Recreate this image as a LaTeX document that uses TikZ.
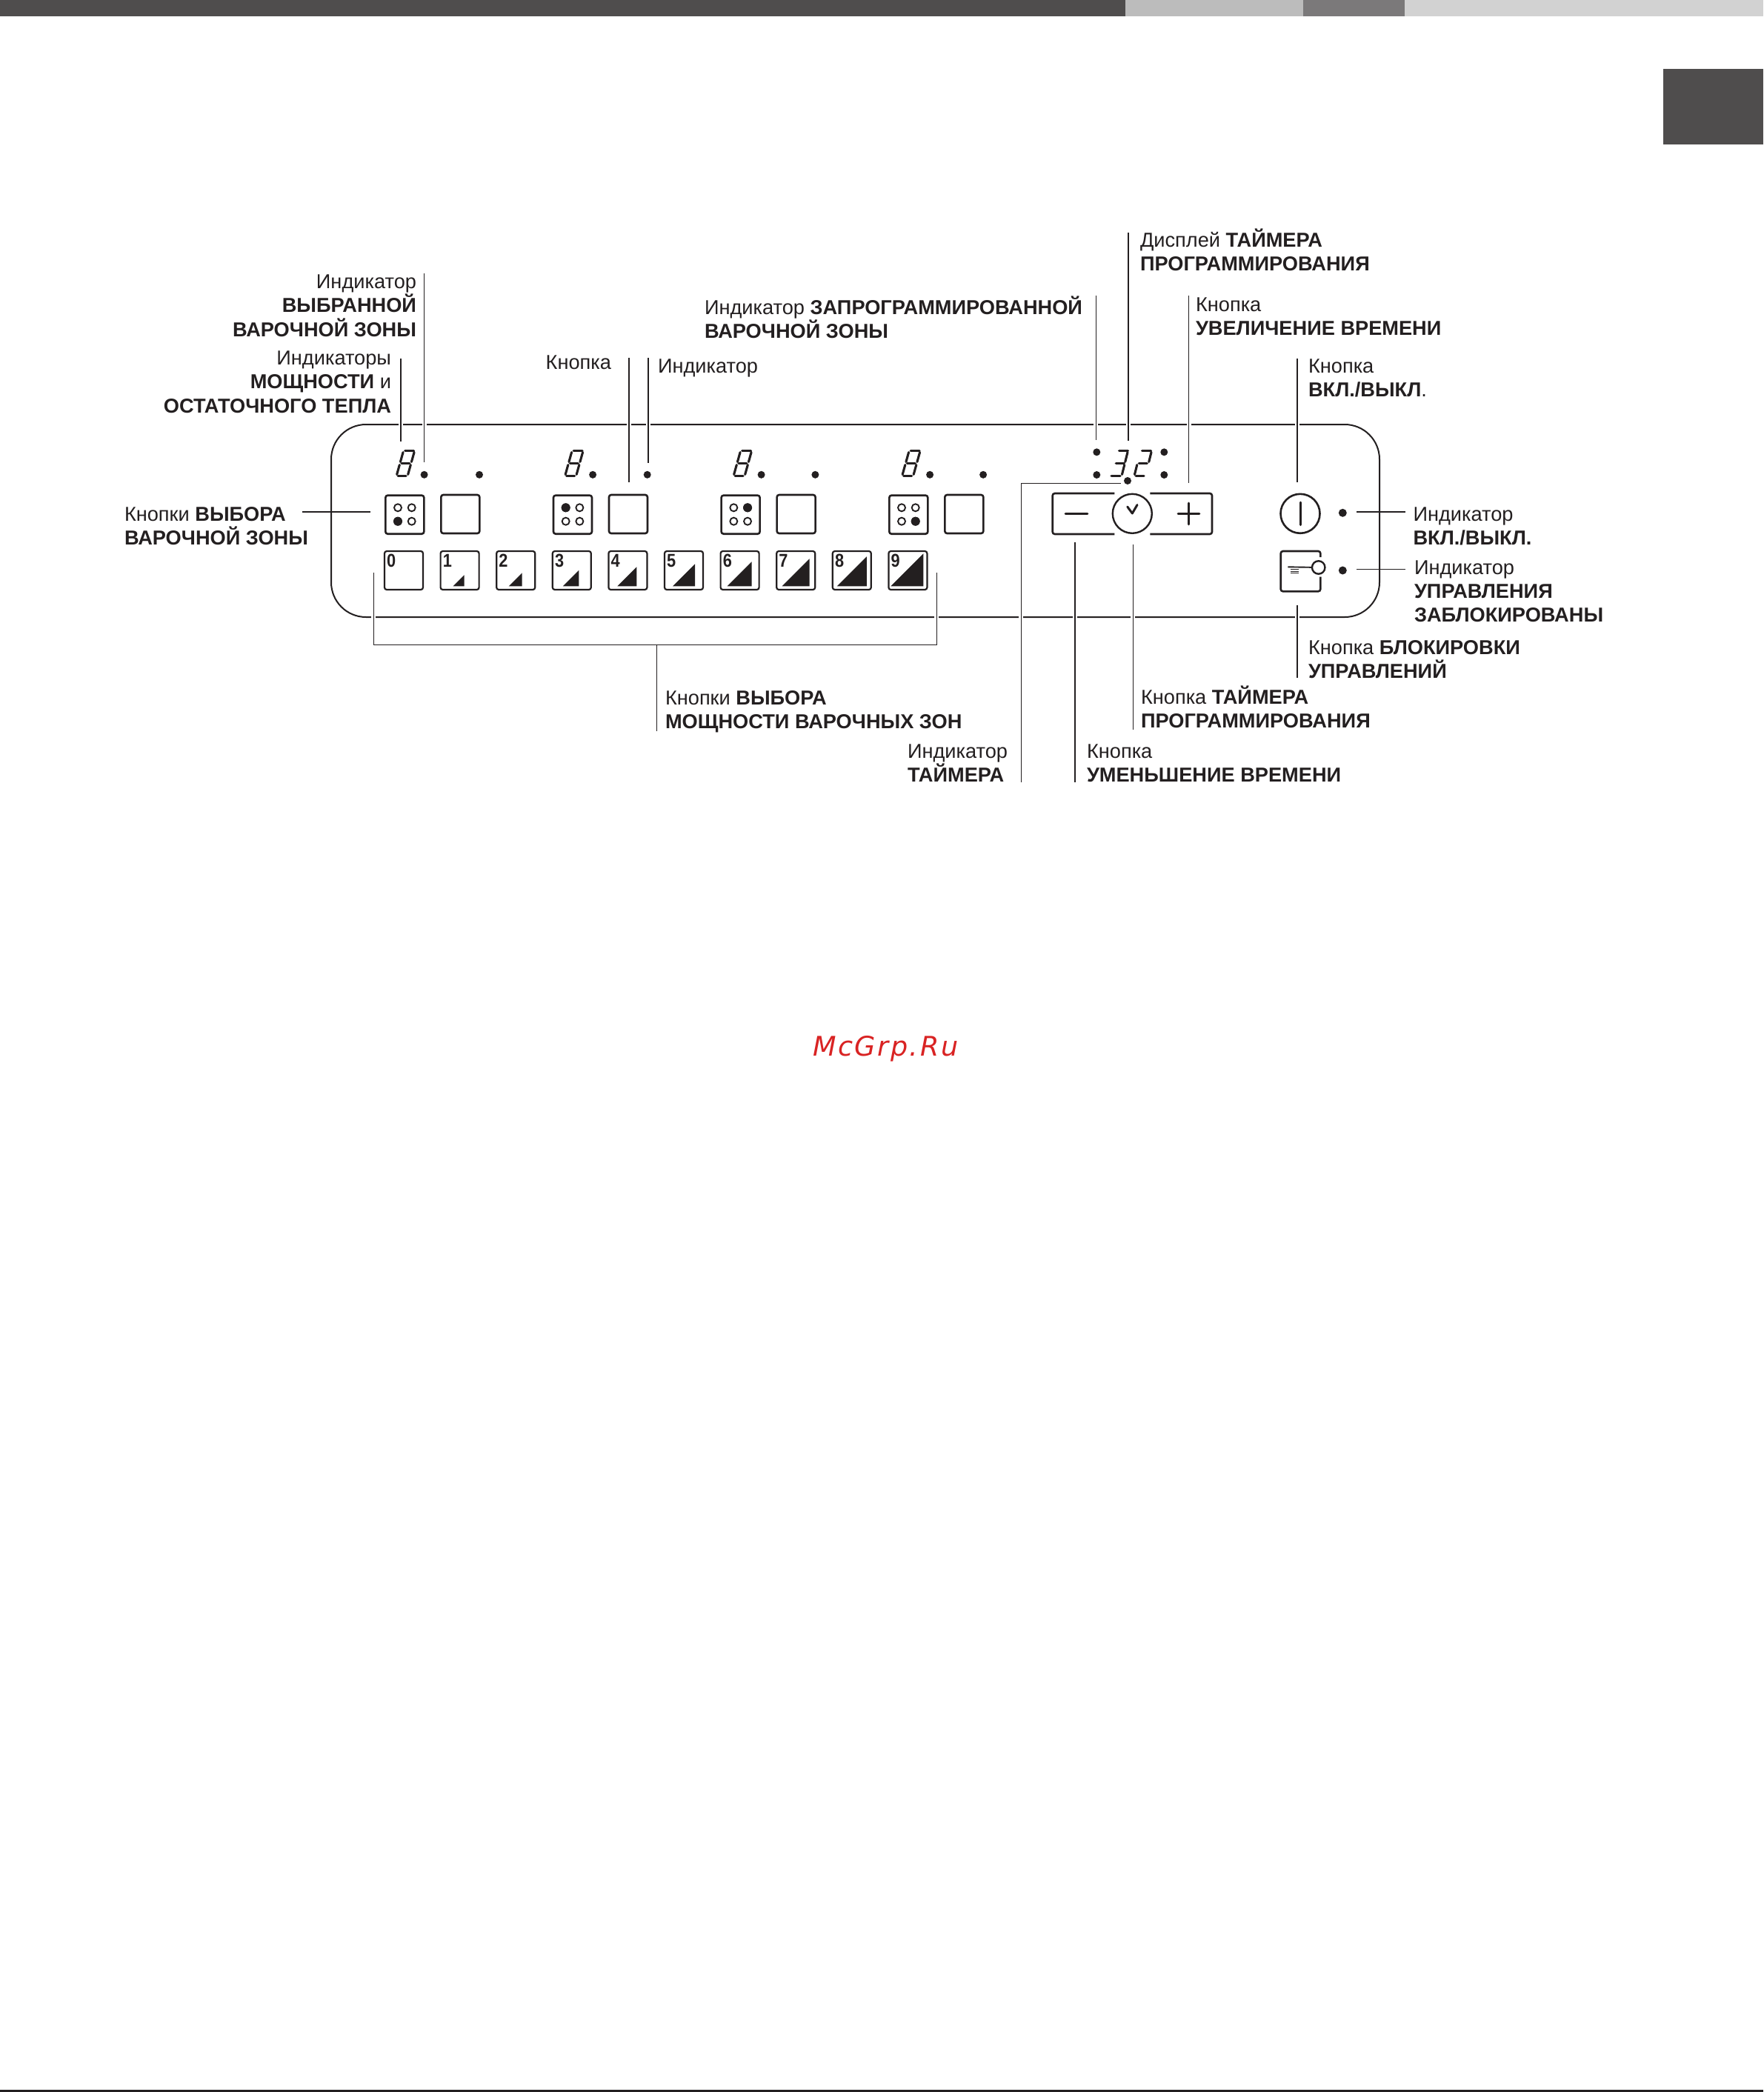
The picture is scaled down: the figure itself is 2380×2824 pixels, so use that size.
\documentclass[tikz,border=0pt]{standalone}
\usepackage{fontspec}
\setmainfont{Liberation Sans}
\newfontfamily\wmfont[LetterSpace=7]{DejaVu Sans}
\newfontfamily\numfont[FakeStretch=0.87]{Liberation Sans}
\definecolor{ink}{HTML}{231F20}
\definecolor{tabdark}{HTML}{4F4D4D}
\definecolor{barlight}{HTML}{BCBCBC}
\definecolor{barmid}{HTML}{7B797A}
\definecolor{barpale}{HTML}{D2D2D2}
\definecolor{wmred}{HTML}{D92323}
\newcommand{\lblfont}{\fontsize{27.2}{32.3}\selectfont\lineskiplimit=-100pt\relax}
\tikzset{
  lbl/.style={font=\lblfont,text=ink,inner sep=0pt,outer sep=0pt},
  lblL/.style={lbl,anchor=north west,align=left},
  lblR/.style={lbl,anchor=north east,align=right},
  leader/.style={draw=ink,line width=1.6pt,preaction={draw=white,line width=6pt}},
  plainleader/.style={draw=ink,line width=1.6pt},
  btn/.style={draw=ink,line width=2.6pt,rounded corners=3pt,minimum width=52pt,minimum height=52pt,inner sep=0pt,outer sep=0pt},
  pbtn/.style={draw=ink,line width=2.2pt,rounded corners=3pt,minimum width=52pt,minimum height=52pt,inner sep=0pt,outer sep=0pt},
  seg/.style={draw=ink,line width=3.1pt,line cap=round},
  pnum/.style={font=\numfont\fontsize{25}{25}\selectfont\bfseries,text=ink,inner sep=0pt,anchor=west},
  thick line/.style={draw=ink,line width=2.6pt},
}
% seven-segment pieces (local coordinates, origin at bottom left)
\newcommand{\sT}{\draw[seg] (2,-34)--(14,-34);}
\newcommand{\sM}{\draw[seg] (2,-17)--(13,-17);}
\newcommand{\sB}{\draw[seg] (2,0)--(13,0);}
\newcommand{\sUL}{\draw[seg] (0,-32)--(0,-19);}
\newcommand{\sUR}{\draw[seg] (15,-32)--(15,-19);}
\newcommand{\sLL}{\draw[seg] (0,-15)--(0,-2);}
\newcommand{\sLR}{\draw[seg] (15,-15)--(15,-2);}
\begin{document}
\begin{tikzpicture}[x=1pt,y=-1pt]
\useasboundingbox (0,0) rectangle (2380,2824);
\fill[white] (0,0) rectangle (2380,2824);
% page furniture
\fill[tabdark] (0,0) rectangle (1519,22);
\fill[barlight] (1519,0) rectangle (1759,22);
\fill[barmid] (1759,0) rectangle (1896,22);
\fill[barpale] (1896,0) rectangle (2380,22);
\fill[tabdark] (2245,93) rectangle (2380,195);
\fill[ink] (0,2821) rectangle (2380,2824);
\node[font=\wmfont\itshape\fontsize{36.5}{40}\selectfont,text=wmred,anchor=base west,inner sep=0pt] (wm) at (1097,1425) {McGrp.Ru};
% panel
\draw[draw=ink,line width=2pt,rounded corners=47pt] (447,573) rectangle (1862,833);
% leader end points
\foreach \n/\x/\ya/\yb in {a/572.6/369/624, b/541/484/596, c/849/483/651, d/875/483/625,
    e/1479.4/399/594, f/1522.7/314/595, g/1604.6/399/652, h/1751/484/651,
    i/1451/732/1056, j/1529.3/735/985, k/1750.7/817/915}{
  \coordinate (\n top) at (\x,\ya);
  \coordinate (\n bot) at (\x,\yb);
  \draw[leader] (\n top) -- (\n bot);
}
\coordinate (tiA) at (1513.3,652.5);
\coordinate (tiB) at (1378.4,652.5);
\coordinate (tiC) at (1378.4,1056);
\draw[leader] (tiC) -- (tiB);
\draw[plainleader] (tiB) -- (tiA);
\coordinate (brA) at (504.3,773);
\coordinate (brB) at (504.3,870.5);
\coordinate (brC) at (1264.3,870.5);
\coordinate (brD) at (1264.3,773);
\coordinate (brE) at (886.4,870.5);
\coordinate (brF) at (886.4,987);
\draw[leader] (brA) -- (brB) -- (brC) -- (brD);
\draw[plainleader] (brE) -- (brF);
\coordinate (leftA) at (408,690.7);
\coordinate (leftB) at (500,690.7);
\draw[plainleader,line width=2.2pt] (leftA) -- (leftB);
\coordinate (rA) at (1831,690.7);
\coordinate (rB) at (1897,690.7);
\draw[plainleader,line width=2.2pt] (rA) -- (rB);
\coordinate (rC) at (1831,768.3);
\coordinate (rD) at (1897,768.3);
\draw[plainleader] (rC) -- (rD);
% zones
\foreach \g/\ax/\ay in {0/0/1,1/0/0,2/1/0,3/1/1}{
  \pgfmathsetmacro{\xz}{519+226.67*\g}
  \pgfmathsetmacro{\dotA}{572.6+227.5*\g}
  \pgfmathsetmacro{\dotB}{647+226.7*\g}
  \node[btn] (zone\g) at (\xz+27.3,694.7) {};
  \node[btn] (aux\g) at (\xz+75+27.3,694) {};
  \foreach \cx in {0,1}\foreach \cy in {0,1}{
    \pgfmathsetmacro{\px}{\xz+18+18.7*\cx}
    \pgfmathsetmacro{\py}{685.3+18.4*\cy}
    \draw[ink,line width=1.9pt,fill=white] (\px,\py) circle[radius=5pt];
  }
  \fill[ink] (\xz+18+18.7*\ax,685.3+18.4*\ay) circle[radius=6pt];
  \fill[ink] (\dotA,640.8) circle[radius=5pt];
  \fill[ink] (\dotB,640.8) circle[radius=5pt];
  \begin{scope}[shift={(\dotA-37.5,642.5)},xslant=.28]
    \sT\sM\sB\sUL\sUR\sLL\sLR
  \end{scope}
}
% power buttons
\foreach \i/\r/\s in {0/0/0,1/33/15,2/35.5/18,3/36.6/21.5,4/39/26,5/42/30,6/43/33,7/45.4/37,8/47/40,9/48/44}{
  \pgfmathsetmacro{\bx}{518+75.6*\i}
  \node[pbtn] (pow\i) at (\bx+27,770) {};
  \node[pnum] (num\i) at (\bx+4,757) {\i};
  \ifnum\i>0
    \fill[ink] (\bx+\r-\s,791.3) -- (\bx+\r,791.3) -- (\bx+\r,791.3-\s) -- cycle;
  \fi
}
% timer
\draw[thick line,rounded corners=3pt] (1504.3,666) -- (1420.7,666) -- (1420.7,721) -- (1504.3,721);
\draw[thick line,rounded corners=3pt] (1552.3,666) -- (1636,666) -- (1636,721) -- (1552.3,721);
\node[circle,draw=ink,line width=2.4pt,minimum size=53pt,inner sep=0pt] (timer) at (1528.3,693.3) {};
\draw[draw=ink,line width=3pt,line join=round,line cap=round] (1521.7,684) -- (1528.3,693) -- (1535,681.5);
\draw[thick line,line cap=round] (1438,693.3) -- (1468,693.3);
\draw[thick line,line cap=round] (1590,693.3) -- (1619,693.3);
\draw[thick line,line cap=round] (1604.4,679) -- (1604.4,708);
\foreach \px/\py in {1480.3/610.3,1480.3/641,1571.3/610.3,1571.3/641,1522/649}{
  \fill[ink] (\px,\py) circle[radius=5pt];
}
\begin{scope}[shift={(1499,642.5)},xslant=.25]
  \draw[seg] (3,-34)--(15,-34);
  \draw[seg] (3,-17)--(14,-17);
  \draw[seg] (1,0)--(13,0);
  \sUR\sLR
\end{scope}
\begin{scope}[shift={(1531,642.5)},xslant=.25]
  \sT\sM\sB\sUR\sLL
\end{scope}
% on/off
\node[circle,draw=ink,line width=2.6pt,minimum size=53pt,inner sep=0pt] (onoff) at (1755,693.3) {};
\draw[thick line,line width=3pt,line cap=round] (1755,678) -- (1755,708.5);
\fill[ink] (1812.3,692.3) circle[radius=5.5pt];
\fill[ink] (1812.3,770) circle[radius=5.5pt];
% lock
\draw[thick line,rounded corners=3pt] (1782.3,752) -- (1782.3,744) -- (1728.7,744) -- (1728.7,798.3) -- (1782.3,798.3) -- (1782.3,778.5);
\node[circle,draw=ink,line width=2.4pt,minimum size=17.5pt,inner sep=0pt,fill=white] (key) at (1779.7,766) {};
\draw[thick line,line width=1.9pt] (1738.3,765.3) -- (key);
\draw[draw=ink,line width=1.1pt] (1742.3,768.6) -- (1753.3,768.6) (1742.3,771.1) -- (1753.3,771.1) (1742.3,773.6) -- (1753.3,773.6);
% labels
\node[lblR] (t1) at (562,367) {\strut Индикатор\\\textbf{ВЫБРАННОЙ}\\\textbf{ВАРОЧНОЙ ЗОНЫ}};
\node[lblR] (t2) at (528,470) {\strut Индикаторы\\\textbf{МОЩНОСТИ} и\\\textbf{ОСТАТОЧНОГО ТЕПЛА}};
\node[lblR] (t3) at (825,476) {\strut Кнопка};
\node[lblL] (t4) at (888,481) {\strut Индикатор};
\node[lblL] (t5) at (951,400) {\strut Индикатор \textbf{ЗАПРОГРАММИРОВАННОЙ}\\\textbf{ВАРОЧНОЙ ЗОНЫ}};
\node[lblL] (t6) at (1539,308.5) {\strut Дисплей \textbf{ТАЙМЕРА}\\\textbf{ПРОГРАММИРОВАНИЯ}};
\node[lblL] (t7) at (1614,398) {\strut Кнопка\\\textbf{УВЕЛИЧЕНИЕ ВРЕМЕНИ}};
\node[lblL] (t8) at (1766,481) {\strut Кнопка\\\textbf{ВКЛ./ВЫКЛ}.};
\node[lblL] (t9) at (168,680.5) {\strut Кнопки \textbf{ВЫБОРА}\\\textbf{ВАРОЧНОЙ ЗОНЫ}};
\node[lblL] (t10) at (1907.5,680.5) {\strut Индикатор\\\textbf{ВКЛ./ВЫКЛ.}};
\node[lblL] (t11) at (1909,752.5) {\strut Индикатор\\\textbf{УПРАВЛЕНИЯ}\\\textbf{ЗАБЛОКИРОВАНЫ}};
\node[lblL] (t12) at (1766,860.5) {\strut Кнопка \textbf{БЛОКИРОВКИ}\\\textbf{УПРАВЛЕНИЙ}};
\node[lblL] (t13) at (1540,925.5) {\strut Кнопка \textbf{ТАЙМЕРА}\\\textbf{ПРОГРАММИРОВАНИЯ}};
\node[lblL] (t14) at (1467,1000.5) {\strut Кнопка\\\textbf{УМЕНЬШЕНИЕ ВРЕМЕНИ}};
\node[lblL] (t15) at (1225,1000.5) {\strut Индикатор\\\textbf{ТАЙМЕРА}};
\node[lblL] (t16) at (898,929) {\strut Кнопки \textbf{ВЫБОРА}\\\textbf{МОЩНОСТИ ВАРОЧНЫХ ЗОН}};
\end{tikzpicture}
\end{document}
